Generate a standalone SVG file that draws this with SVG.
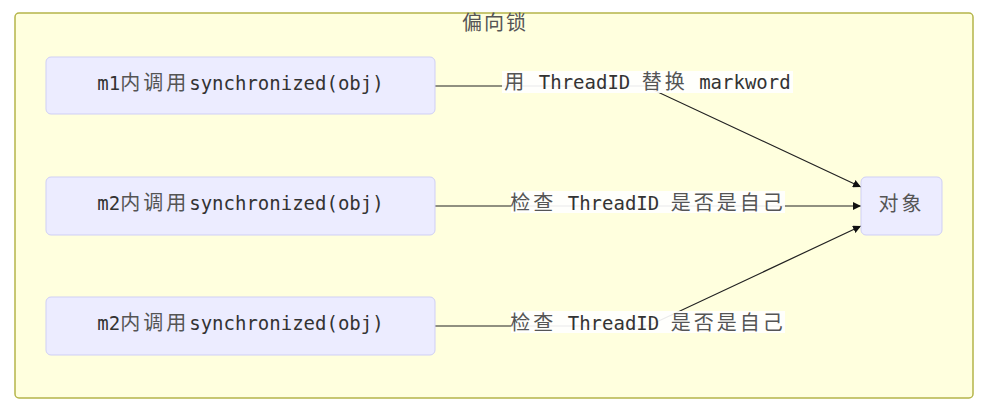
<svg xmlns="http://www.w3.org/2000/svg" width="988" height="418" viewBox="0 0 988 418">
<style>
.cluster{fill:#ffffde;stroke:#b5b54a;stroke-width:1.5}
.node rect{fill:#ececff;stroke:#cfcff5;stroke-width:1}
.t{font-family:"DejaVu Sans Mono","Noto Sans CJK SC",monospace;font-size:19px;fill:#333}
.c{font-family:"Noto Sans CJK SC",sans-serif;font-size:20px;fill:#555;letter-spacing:3px}
.title{font-family:"Noto Sans CJK SC",sans-serif;font-size:20px;fill:#555;letter-spacing:2px}
.edge{fill:none;stroke:#222;stroke-width:1.2}
.lbg{fill:#ffffff;fill-opacity:0.9}
</style>
<defs>
<marker id="arrow" viewBox="0 0 10 10" refX="10" refY="5" markerWidth="8" markerHeight="8" markerUnits="userSpaceOnUse" orient="auto">
<path d="M0,0 L10,5 L0,10 z" fill="#111"/>
</marker>
</defs>
<g id="cluster">
<rect class="cluster" x="15" y="13" width="958" height="385" rx="4"/>
<text class="title" x="495" y="30" text-anchor="middle">偏向锁</text>
</g>
<g id="connectors">
<path class="edge" d="M435,86 L645,86 L861,187" marker-end="url(#arrow)"/>
<path class="edge" d="M435,206 L861,206" marker-end="url(#arrow)"/>
<path class="edge" d="M435,326 L648,326 L861,226" marker-end="url(#arrow)"/>
<g id="label1">
<rect class="lbg" x="502" y="71" width="291" height="22"/>
<text class="t" x="647.5" y="89" text-anchor="middle"><tspan class="c">用</tspan> ThreadID <tspan class="c">替换</tspan> markword</text>
</g>
<g id="label2">
<rect class="lbg" x="511" y="191" width="274" height="22"/>
<text class="t" x="648" y="210" text-anchor="middle"><tspan class="c">检查</tspan> ThreadID <tspan class="c">是否是自己</tspan></text>
</g>
<g id="label3">
<rect class="lbg" x="511" y="311" width="274" height="22"/>
<text class="t" x="648" y="330" text-anchor="middle"><tspan class="c">检查</tspan> ThreadID <tspan class="c">是否是自己</tspan></text>
</g>
</g>
<g id="m1" class="node">
<rect x="46" y="57" width="389" height="57" rx="5"/>
<text class="t" x="240.5" y="90" text-anchor="middle">m1<tspan class="c">内调用</tspan>synchronized(obj)</text>
</g>
<g id="m2a" class="node">
<rect x="46" y="177" width="389" height="58" rx="5"/>
<text class="t" x="240.5" y="210" text-anchor="middle">m2<tspan class="c">内调用</tspan>synchronized(obj)</text>
</g>
<g id="m2b" class="node">
<rect x="46" y="297" width="389" height="58" rx="5"/>
<text class="t" x="240.5" y="330" text-anchor="middle">m2<tspan class="c">内调用</tspan>synchronized(obj)</text>
</g>
<g id="obj" class="node">
<rect x="861" y="177" width="81" height="58" rx="5"/>
<text class="c" x="901.5" y="211" text-anchor="middle">对象</text>
</g>
</svg>
